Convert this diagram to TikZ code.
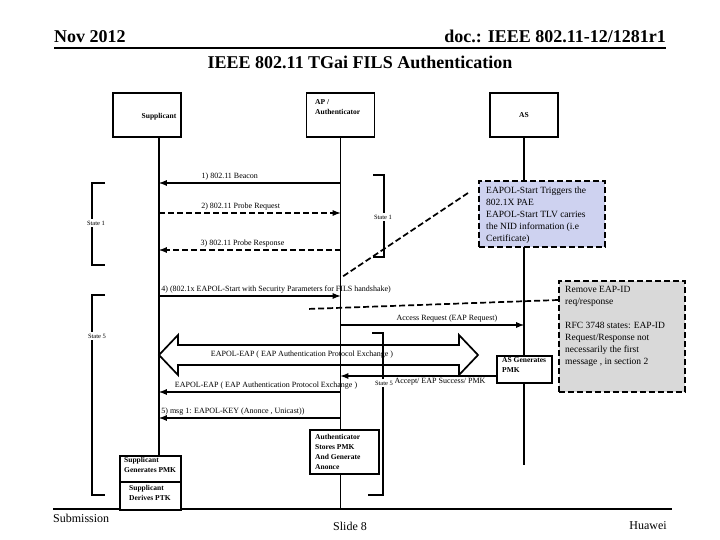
\documentclass[tikz,border=0pt]{standalone}
\usepackage{fontspec}
\setmainfont{Liberation Serif}
\usetikzlibrary{calc}

\definecolor{notebg}{RGB}{206,210,240}
\definecolor{remarkbg}{RGB}{217,217,217}

\tikzset{
  head/.style={draw, fill=white, line width=1.7pt, minimum width=68pt, minimum height=44pt, inner sep=0pt},
  boxtxt/.style={font=\bfseries\fontsize{7.5}{10}\selectfont, inner sep=0pt, align=left},
  sbox/.style={draw, fill=white, line width=1.7pt, anchor=north west, inner sep=0pt},
  lbl/.style={font=\fontsize{8}{9}\selectfont, inner sep=1.5pt},
  life/.style={line width=1.7pt},
  msg/.style={line width=1.7pt, -latex},
  dmsg/.style={msg, dash pattern=on 6pt off 3pt},
  note/.style={draw, line width=1.7pt, dash pattern=on 6pt off 3pt, anchor=north west, inner sep=0pt},
  notetxt/.style={font=\fontsize{9.5}{12}\selectfont, align=left, anchor=north west, inner sep=0pt},
  callout/.style={line width=1.7pt, dash pattern=on 6pt off 3pt},
  brk/.style={line width=1.7pt},
  stxt/.style={font=\fontsize{6.5}{8}\selectfont, fill=white, inner sep=2pt},
  hdr/.style={font=\bfseries\fontsize{18}{20}\selectfont, inner sep=0pt},
  foot/.style={font=\fontsize{12}{14}\selectfont, inner sep=0pt}
}

\begin{document}
\begin{tikzpicture}[x=1pt, y=-1pt]
\useasboundingbox (0,0) rectangle (720,540);

% header and footer
\node[hdr, anchor=base west] (date) at (54,43) {Nov 2012};
\node[hdr, anchor=base east] (doc) at (666,43) {doc.: IEEE 802.11-12/1281r1};
\node[hdr] (title) at (360,62) {IEEE 802.11 TGai FILS Authentication};
\coordinate (hl) at (54,48);
\coordinate (hr) at (666,48);
\draw[line width=2pt] (hl) -- (hr);
\coordinate (fl) at (53,509);
\coordinate (fr) at (672,509);
\draw[line width=2pt] (fl) -- (fr);
\node[foot, anchor=west] (sub) at (53,518) {Submission};
\node[foot] (slide) at (350,526) {Slide 8};
\node[foot, anchor=east] (firm) at (667,526) {Huawei};

% lifelines
\coordinate (supL) at (159,137);
\coordinate (apL) at (340.5,137);
\coordinate (asL) at (524,137);
\coordinate (supE) at (159,455);
\coordinate (apE) at (340.5,509);
\coordinate (asE) at (524,465);
\draw[life] (supL) -- (supE);
\draw[life] (apL) -- (apE);
\draw[life] (asL) -- (asE);

\node[head] (sup) at (147,115) {};
\node[boxtxt] (supT) at (159,117) {Supplicant};
\node[head] (ap) at (340.5,115) {};
\node[boxtxt, anchor=north west] (apT) at (315,99) {AP /\\Authenticator};
\node[head, font=\bfseries\fontsize{7.5}{10}\selectfont] (as) at (524,115) {AS};

% message levels
\foreach \n/\y in {m1/183, m2/213, m3/250, m4/296, ma/325, mc/376, md/392, m5/418}
  \coordinate (\n) at (0,\y);

\draw[msg] (apL |- m1) -- node[lbl, above, pos=0.61] (l1) {1) 802.11 Beacon} (supL |- m1);
\draw[dmsg] (supL |- m2) -- node[lbl, above, pos=0.45] (l2) {2) 802.11 Probe Request} (apL |- m2);
\draw[dmsg] (apL |- m3) -- node[lbl, above, pos=0.54] (l3) {3) 802.11 Probe Response} (supL |- m3);
\draw[msg] (supL |- m4) -- node[lbl, anchor=south west, pos=0] (l4) {4) (802.1x EAPOL-Start with Security Parameters for FILS handshake)} (apL |- m4);
\draw[msg] (apL |- ma) -- node[lbl, above, pos=0.58] (la) {Access Request (EAP Request)} (asL |- ma);

% EAP exchange
\draw[line width=1.7pt] (159,355) -- (178,335) -- (178,345) -- (459,345) -- (459,335) -- (478,355)
  -- (459,375) -- (459,365) -- (178,365) -- (178,375) -- cycle;
\node[lbl] (xchg) at (302,355) {EAPOL-EAP ( EAP Authentication Protocol Exchange )};

\node[sbox, minimum width=55pt, minimum height=27pt] (asgen) at (496,355) {};
\node[boxtxt, anchor=north west] (asgenT) at (502,357) {AS Generates\\PMK};
\draw[msg] (asgen.west |- mc) -- node[lbl, below, pos=0.36] (lc) {Accept/ EAP Success/ PMK} (apL |- mc);
\draw[msg] (apL |- md) -- node[lbl, above, pos=0.41] (ld) {EAPOL-EAP ( EAP Authentication Protocol Exchange )} (supL |- md);
\draw[msg] (apL |- m5) -- node[lbl, anchor=south west, pos=1] (l5) {5) msg 1: EAPOL-KEY (Anonce , Unicast))} (supL |- m5);

% key boxes
\node[sbox, minimum width=69pt, minimum height=44pt] (stores) at (309,429) {};
\node[boxtxt, anchor=north west] (storesT) at (315,434) {Authenticator\\Stores PMK\\And Generate\\Anonce};
\node[sbox, minimum width=61pt, minimum height=26pt] (supgen) at (119,455) {};
\node[boxtxt, anchor=north west] (supgenT) at (124,457) {Supplicant\\Generates PMK};
\node[sbox, minimum width=61pt, minimum height=28pt] (supder) at (119,481) {};
\node[boxtxt, anchor=north west] (supderT) at (129,485) {Supplicant\\Derives PTK};

% state brackets
\draw[brk] (105,183) -- (92,183) -- (92,265) -- (105,265);
\node[stxt] (s1a) at (96,223) {State 1};
\draw[brk] (373,175) -- (384,175) -- (384,257) -- (373,257);
\node[stxt] (s1b) at (383,217) {State 1};
\draw[brk] (105,295) -- (92,295) -- (92,495) -- (105,495);
\node[stxt] (s5a) at (97,336) {State 5};
\draw[brk] (372,333) -- (383,333) -- (383,495) -- (368,495);
\node[stxt] (s5b) at (384,383) {State 5};

% notes
\node[note, fill=notebg, minimum width=126pt, minimum height=66pt] (eapol) at (478,180) {};
\node[notetxt] (eapolT) at (486,187) {EAPOL-Start Triggers the\\802.1X PAE\\EAPOL-Start TLV carries\\the NID information (i.e\\Certificate)};
\coordinate (eapolP) at (342,277);
\draw[callout] ($(eapol.north west)+(-10,13)$) -- (eapolP);

\node[note, fill=remarkbg, minimum width=126pt, minimum height=111pt] (rmk) at (558,280) {};
\node[notetxt] (rmkT) at (565,286) {Remove EAP-ID\\req/response\\[12pt]RFC 3748 states: EAP-ID\\Request/Response not\\necessarily the first\\message , in section 2};
\coordinate (rmkP) at (307,309);
\draw[callout] ($(rmk.north west)+(0,20)$) -- (rmkP);
\end{tikzpicture}
\end{document}
